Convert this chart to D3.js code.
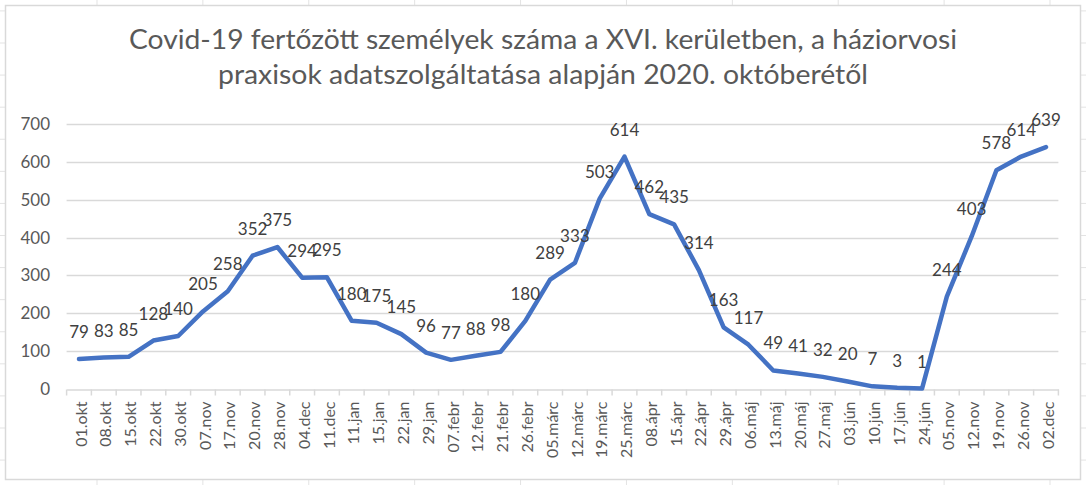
<!DOCTYPE html>
<html><head><meta charset="utf-8">
<script src="https://cdn.jsdelivr.net/npm/d3@7"></script>
<style>html,body{margin:0;padding:0;background:#fff;}svg{display:block;}</style>
</head><body>
<svg id="c" width="1086" height="485"></svg>
<script>
const categories = ["01.okt","08.okt","15.okt","22.okt","30.okt","07.nov","17.nov","20.nov","28.nov","04.dec","11.dec","11.jan","15.jan","22.jan","29.jan","07.febr","12.febr","21.febr","26.febr","05.márc","12.márc","19.márc","25.márc","08.ápr","15.ápr","22.ápr","29.ápr","06.máj","13.máj","20.máj","27.máj","03.jún","10.jún","17.jún","24.jún","05.nov","12.nov","19.nov","26.nov","02.dec"];
const values = [79,83,85,128,140,205,258,352,375,294,295,180,175,145,96,77,88,98,180,289,333,503,614,462,435,314,163,117,49,41,32,20,7,3,1,244,403,578,614,639];
const yTicks = [0,100,200,300,400,500,600,700];
const titleLines = ["Covid-19 fertőzött személyek száma a XVI. kerületben, a háziorvosi","praxisok adatszolgáltatása alapján 2020. októberétől"];

const svg = d3.select("#c");
const W = 1086, H = 485;

// spreadsheet background grid
const sheetCols = d3.range(10).map(i => i);
const sheetRows = d3.range(16).map(i => i);
const colX = d3.scaleLinear().domain([0, 9]).range([97, 1050]);
const rowY = d3.scaleLinear().domain([1, 13]).range([43, 428]);
svg.append("g").selectAll("line.c").data(sheetCols).join("line")
  .attr("x1", d => colX(d)).attr("x2", d => colX(d)).attr("y1", 0).attr("y2", H)
  .attr("stroke", "#e3e3e3").attr("stroke-width", 1);
svg.append("g").selectAll("line.r").data(sheetRows).join("line")
  .attr("x1", 0).attr("x2", W).attr("y1", d => rowY(d)).attr("y2", d => rowY(d))
  .attr("stroke", "#e3e3e3").attr("stroke-width", 1);

// chart area
svg.append("rect").attr("x", 5.5).attr("y", 5.5).attr("width", 1075).attr("height", 474)
  .attr("fill", "#fff").attr("stroke", "#d9d9d9").attr("stroke-width", 1.5);

// title
svg.append("g").selectAll("text").data(titleLines).join("text")
  .attr("x", 543).attr("y", (d, i) => 49 + i * 35)
  .attr("text-anchor", "middle")
  .attr("font-family", "Lato, 'Open Sans', sans-serif")
  .attr("font-size", 26).attr("fill", "#595959")
  .attr("textLength", (d, i) => i === 0 ? 828 : 650)
  .attr("lengthAdjust", "spacingAndGlyphs")
  .text(d => d);

const x = d3.scaleBand().domain(categories).range([66.6, 1058.4]).padding(0);
const y = d3.scaleLinear().domain([0, 700]).range([389, 124]);

// gridlines
svg.append("g").selectAll("line").data(yTicks.filter(d => d > 0)).join("line")
  .attr("x1", 66.6).attr("x2", 1058.4)
  .attr("y1", d => Math.round(y(d)) + 0.5).attr("y2", d => Math.round(y(d)) + 0.5)
  .attr("stroke", "#d9d9d9").attr("stroke-width", 1.5);

// y axis labels
const yAxis = d3.axisLeft(y).tickValues(yTicks).tickSize(0).tickPadding(0);
const gy = svg.append("g").attr("transform", "translate(50,0)").call(yAxis);
gy.select(".domain").remove();
gy.selectAll("text").attr("font-family", "Lato, 'Open Sans', sans-serif")
  .attr("font-size", 17).attr("fill", "#595959");

// x axis
const xAxis = d3.axisBottom(x).tickSize(0).tickPadding(0);
const gx = svg.append("g").attr("transform", "translate(0," + (Math.round(y(0)) + 0.5) + ")").call(xAxis);
gx.select(".domain").attr("stroke", "#d9d9d9").attr("stroke-width", 1.5);
gx.selectAll(".tick line").remove();
const bounds = categories.map(c => x(c)).concat([x.range()[1]]);
gx.selectAll("line.bt").data(bounds).join("line").attr("class", "bt")
  .attr("x1", d => d).attr("x2", d => d).attr("y1", 0).attr("y2", 6)
  .attr("stroke", "#d9d9d9").attr("stroke-width", 1.5);
gx.selectAll(".tick text")
  .attr("font-family", "Lato, 'Open Sans', sans-serif")
  .attr("font-size", 16).attr("fill", "#595959")
  .attr("text-anchor", "end")
  .attr("transform", "translate(2,12) rotate(-90)")
  .attr("x", 0).attr("y", 0).attr("dy", "0.35em");

// line
const cx = d => x(d) + x.bandwidth() / 2;
const line = d3.line().x((d, i) => cx(categories[i])).y(d => y(d));
svg.append("path").datum(values).attr("d", line)
  .attr("fill", "none").attr("stroke", "#4472C4").attr("stroke-width", 4.5)
  .attr("stroke-linejoin", "round").attr("stroke-linecap", "round");

// data labels
svg.append("g").selectAll("text").data(values).join("text")
  .attr("x", (d, i) => cx(categories[i]))
  .attr("y", d => y(d) - 21)
  .attr("text-anchor", "middle")
  .attr("font-family", "Lato, 'Open Sans', sans-serif")
  .attr("font-size", 17).attr("fill", "#404040")
  .text(d => d);
</script>
</body></html>
